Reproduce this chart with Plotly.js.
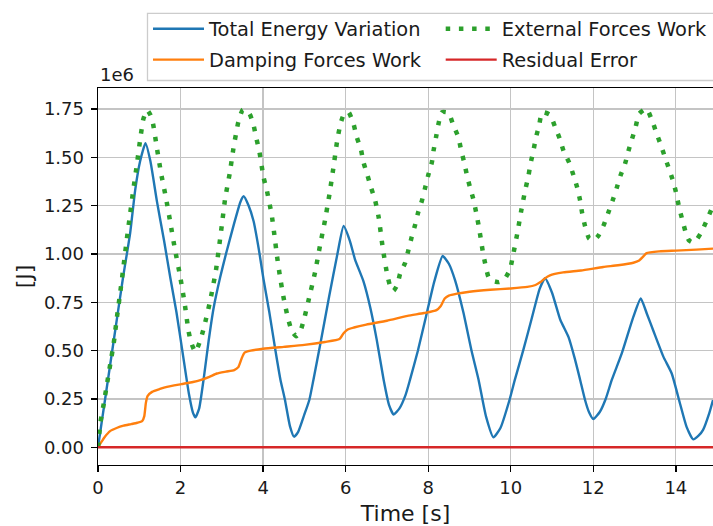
<!DOCTYPE html>
<html>
<head>
<meta charset="utf-8">
<script src="https://cdn.plot.ly/plotly-3.0.1.min.js"></script>
<style>html,body{margin:0;padding:0;background:#fff;overflow:hidden}#chart{width:713px;height:526px}</style>
</head>
<body>
<div id="chart"></div>
<script>
// Values in units of 1e6 J, time in s
const energyT = [0,0.2,0.4,0.6,0.78,0.9,1.02,1.15,1.27,1.43,1.6,1.75,1.9,2.05,2.2,2.3,2.36,2.45,2.57,2.68,2.8,2.96,3.1,3.3,3.45,3.53,3.65,3.77,3.9,4.01,4.15,4.3,4.42,4.53,4.65,4.75,4.85,5.0,5.12,5.22,5.4,5.6,5.8,5.95,6.1,6.23,6.43,6.6,6.75,6.92,7.05,7.16,7.3,7.45,7.56,7.75,7.95,8.15,8.35,8.5,8.65,8.85,9.05,9.22,9.4,9.58,9.75,9.97,10.1,10.3,10.5,10.7,10.83,11.0,11.2,11.4,11.55,11.68,11.8,11.9,12.0,12.16,12.3,12.45,12.69,12.97,13.15,13.3,13.45,13.7,13.9,14.1,14.26,14.42,14.55,14.66,14.8,14.9];
const energyV = [0,0.29,0.58,0.87,1.11,1.33,1.48,1.574,1.48,1.27,1.07,0.88,0.70,0.49,0.28,0.18,0.155,0.2,0.37,0.55,0.72,0.88,1.0,1.16,1.27,1.299,1.25,1.17,1.02,0.87,0.70,0.50,0.35,0.245,0.11,0.055,0.08,0.17,0.245,0.35,0.55,0.78,1.0,1.145,1.07,0.97,0.86,0.72,0.56,0.35,0.22,0.17,0.2,0.27,0.35,0.5,0.68,0.86,0.99,0.95,0.865,0.7,0.5,0.35,0.16,0.052,0.1,0.245,0.35,0.5,0.66,0.82,0.875,0.8,0.66,0.57,0.46,0.35,0.245,0.18,0.146,0.184,0.25,0.35,0.486,0.675,0.77,0.69,0.606,0.468,0.382,0.227,0.106,0.041,0.06,0.09,0.17,0.245];

const dampT = [0,0.06,0.15,0.3,0.45,0.62,0.8,0.95,1.07,1.12,1.16,1.2,1.31,1.5,1.67,2.02,2.3,2.48,2.7,2.88,3.1,3.3,3.4,3.48,3.55,3.7,4.0,4.5,5.0,5.5,5.85,5.95,6.05,6.2,6.5,7.0,7.5,7.9,8.2,8.3,8.4,8.5,8.7,9.0,9.5,10.0,10.4,10.6,10.72,10.82,10.95,11.27,11.7,12.24,12.6,12.97,13.1,13.2,13.29,13.6,14.0,14.5,14.9];
const dampV = [0,0.02,0.05,0.085,0.1,0.112,0.12,0.127,0.135,0.16,0.23,0.265,0.287,0.302,0.313,0.327,0.338,0.348,0.365,0.382,0.392,0.40,0.415,0.46,0.49,0.50,0.51,0.52,0.53,0.545,0.56,0.59,0.61,0.62,0.635,0.655,0.68,0.695,0.71,0.73,0.77,0.785,0.795,0.805,0.815,0.822,0.83,0.84,0.855,0.873,0.89,0.905,0.915,0.933,0.942,0.955,0.965,0.985,1.005,1.014,1.018,1.023,1.028];

const extT = [0,0.06,0.14,0.22,0.3,0.38,0.46,0.54,0.62,0.7,0.78,0.86,0.94,1.02,1.1,1.19,1.27,1.33,1.43,1.53,1.65,1.75,1.86,1.99,2.1,2.19,2.25,2.36,2.48,2.57,2.72,2.86,3.0,3.08,3.19,3.28,3.4,3.51,3.67,3.77,3.83,3.91,4.01,4.09,4.21,4.29,4.33,4.41,4.5,4.6,4.7,4.8,4.9,5.0,5.1,5.26,5.38,5.5,5.61,5.7,5.79,5.87,5.95,6.07,6.19,6.27,6.37,6.43,6.53,6.61,6.71,6.8,6.9,7.01,7.1,7.16,7.25,7.32,7.44,7.52,7.6,7.68,7.76,7.85,7.92,8.0,8.09,8.13,8.19,8.25,8.33,8.49,8.61,8.73,8.8,8.87,8.94,9.01,9.09,9.16,9.22,9.27,9.32,9.38,9.46,9.58,9.72,9.85,9.98,10.08,10.17,10.25,10.35,10.43,10.48,10.55,10.61,10.69,10.76,10.95,11.07,11.19,11.28,11.42,11.52,11.61,11.68,11.73,11.8,11.9,12.0,12.12,12.26,12.36,12.47,12.57,12.66,12.77,12.85,12.94,13.03,13.11,13.29,13.43,13.53,13.64,13.74,13.84,13.94,14.02,14.08,14.16,14.24,14.32,14.42,14.52,14.62,14.75,14.87,14.9];
const extV = [0,0.13,0.227,0.33,0.434,0.537,0.675,0.804,0.94,1.08,1.21,1.34,1.46,1.59,1.7,1.745,1.72,1.678,1.545,1.416,1.287,1.166,1.03,0.885,0.744,0.606,0.546,0.494,0.555,0.623,0.761,0.92,1.149,1.287,1.416,1.545,1.683,1.747,1.726,1.666,1.605,1.531,1.398,1.33,1.2,1.071,1.0,0.882,0.77,0.67,0.6,0.575,0.6,0.67,0.76,0.907,1.045,1.175,1.313,1.442,1.58,1.67,1.72,1.734,1.674,1.605,1.542,1.476,1.407,1.347,1.282,1.19,1.03,0.89,0.82,0.81,0.84,0.899,0.954,1.02,1.088,1.149,1.218,1.278,1.338,1.407,1.476,1.536,1.605,1.674,1.734,1.731,1.666,1.605,1.536,1.476,1.407,1.347,1.287,1.218,1.149,1.085,1.016,0.951,0.882,0.86,0.855,0.87,0.92,1.02,1.12,1.22,1.33,1.407,1.468,1.536,1.602,1.669,1.734,1.721,1.66,1.595,1.533,1.471,1.407,1.344,1.278,1.212,1.145,1.08,1.07,1.094,1.154,1.212,1.278,1.344,1.407,1.468,1.533,1.597,1.662,1.726,1.752,1.688,1.626,1.562,1.499,1.437,1.373,1.304,1.24,1.175,1.111,1.07,1.059,1.08,1.114,1.175,1.235,1.25];

const residT = [0,2.5,5,7.5,10,12.5,14.9];
const residV = [0,0,0,0,0,0,0];

const seriesNames = ['Total Energy Variation','Damping Forces Work','External Forces Work','Residual Error'];
const xTicks = [0,2,4,6,8,10,12,14];
const yTicks = [0,0.25,0.5,0.75,1.0,1.25,1.5,1.75];

const FONT = 'DejaVu Sans, Liberation Sans, sans-serif';
const TXT = '#1a1a1a';
const ITEMW = 51;

const traces = [
  {x: energyT, y: energyV, name: seriesNames[0], mode:'lines', legend:'legend',
   line:{color:'#1f77b4', width:2.4, shape:'spline', smoothing:0.5}},
  {x: dampT, y: dampV, name: seriesNames[1], mode:'lines', legend:'legend2',
   line:{color:'#ff7f0e', width:2.4, shape:'spline', smoothing:0.5}},
  {x: extT, y: extV, name: seriesNames[2], mode:'lines', legend:'legend3',
   line:{color:'#2ca02c', width:4.5, dash:'4.5px,8.7px', shape:'spline', smoothing:0.5}},
  {x: residT, y: residV, name: seriesNames[3], mode:'lines', legend:'legend4',
   line:{color:'#d62728', width:2.4}}
];

const L = 98, T = 87.5, W = 615, H = 377.5;
function px(x){ return (x - L) / W; }
function py(y){ return (T + H - y) / H; }

const axisCommon = {
  ticks:'outside', ticklen:6, tickwidth:1.4, tickcolor:'#000',
  showline:true, linecolor:'#000', linewidth:1.4,
  showgrid:true, gridcolor:'#c4c4c4', gridwidth:1.3, zeroline:false,
  tickfont:{family:FONT, size:18, color:TXT}
};

function legendAt(xp, yp){
  return {
    orientation:'v', xanchor:'left', yanchor:'middle', x: px(xp), y: py(yp),
    font:{family:FONT, size:19.4, color:TXT},
    bgcolor:'rgba(0,0,0,0)', borderwidth:0,
    itemwidth: ITEMW, traceorder:'normal'
  };
}

const layout = {
  width:713, height:526,
  margin:{l:L, r:0, t:T, b:526 - T - H, pad:0},
  paper_bgcolor:'#ffffff', plot_bgcolor:'#ffffff',
  font:{family:FONT, size:18, color:TXT},
  showlegend:true,
  xaxis: Object.assign({}, axisCommon, {
    range:[0,14.9], tickvals:xTicks, ticktext:xTicks.map(String), mirror:true,
    title:{text:'Time [s]', font:{family:FONT, size:22, color:TXT}, standoff:12}
  }),
  yaxis: Object.assign({}, axisCommon, {
    range:[-0.0915,1.8594], tickvals:yTicks, ticktext:yTicks.map(v => v.toFixed(2)), mirror:false,
    ticklabelstandoff:3,
    title:{text:'[J]', font:{family:FONT, size:22, color:TXT}, standoff:5}
  }),
  legend: legendAt(148, 28.5),
  legend2: legendAt(148, 59.5),
  legend3: legendAt(440.7, 28.5),
  legend4: legendAt(440.7, 59.5),
  shapes:[{type:'rect', xref:'paper', yref:'paper', x0:px(147.5), x1:px(730), y0:py(80), y1:py(12.7),
    line:{color:'#cccccc', width:1.3}, fillcolor:'rgba(255,255,255,0.8)', layer:'above'}],
  annotations:[{text:'1e6', xref:'paper', yref:'paper', x:0, y:1, xanchor:'left', yanchor:'middle',
    yshift:14, showarrow:false, font:{family:FONT, size:18, color:TXT}}]
};

Plotly.newPlot('chart', traces, layout, {displayModeBar:false, staticPlot:true});
</script>
</body>
</html>
